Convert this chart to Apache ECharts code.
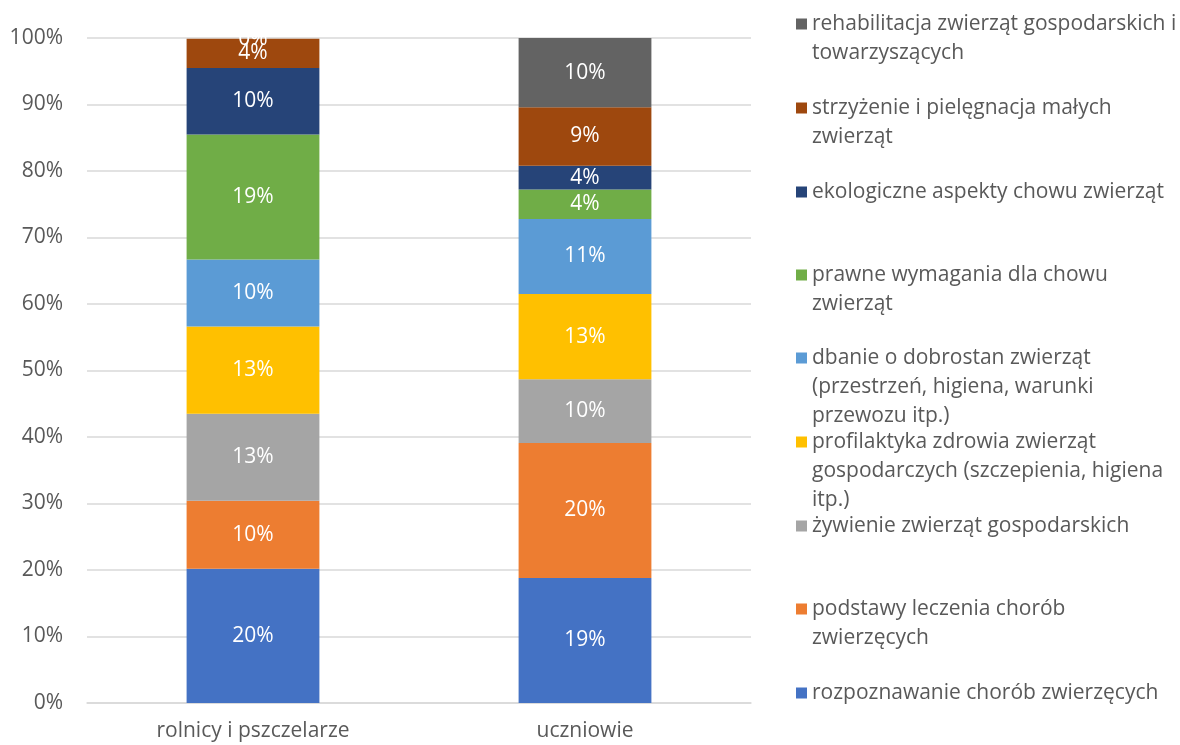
<!DOCTYPE html>
<html>
<head>
<meta charset="utf-8">
<script src="https://cdn.jsdelivr.net/npm/echarts@6/dist/echarts.min.js"></script>
<style>
  html, body { margin: 0; padding: 0; background: #fff; }
  #chart { width: 1180px; height: 745px; }
</style>
</head>
<body>
<div id="chart"></div>
<script>
  const categories = ['rolnicy i pszczelarze', 'uczniowie'];

  // kolejność od dołu słupka
  const seriesNames = [
    'rozpoznawanie chorób zwierzęcych',
    'podstawy leczenia chorób zwierzęcych',
    'żywienie zwierząt gospodarskich',
    'profilaktyka zdrowia zwierząt gospodarczych (szczepienia, higiena itp.)',
    'dbanie o dobrostan zwierząt (przestrzeń, higiena, warunki przewozu itp.)',
    'prawne wymagania dla chowu zwierząt',
    'ekologiczne aspekty chowu zwierząt',
    'strzyżenie i pielęgnacja małych zwierząt',
    'rehabilitacja zwierząt gospodarskich i towarzyszących',
  ];

  const legendLines = [
    ['rozpoznawanie chorób zwierzęcych'],
    ['podstawy leczenia chorób', 'zwierzęcych'],
    ['żywienie zwierząt gospodarskich'],
    ['profilaktyka zdrowia zwierząt', 'gospodarczych (szczepienia, higiena', 'itp.)'],
    ['dbanie o dobrostan zwierząt', '(przestrzeń, higiena, warunki', 'przewozu itp.)'],
    ['prawne wymagania dla chowu', 'zwierząt'],
    ['ekologiczne aspekty chowu zwierząt'],
    ['strzyżenie i pielęgnacja małych', 'zwierząt'],
    ['rehabilitacja zwierząt gospodarskich i', 'towarzyszących'],
  ];

  const rozpoznawanie = [20.2, 18.8];
  const podstawy = [10.2, 20.3];
  const zywienie = [13.1, 9.6];
  const profilaktyka = [13.1, 12.8];
  const dobrostan = [10.1, 11.3];
  const prawne = [18.8, 4.4];
  const ekologiczne = [10.0, 3.6];
  const strzyzenie = [4.4, 8.8];
  const rehabilitacja = [0, 10.4];

  const seriesValues = [
    rozpoznawanie, podstawy, zywienie, profilaktyka, dobrostan,
    prawne, ekologiczne, strzyzenie, rehabilitacja,
  ];

  const colors = ['#4472c4', '#ed7d31', '#a5a5a5', '#ffc000', '#5b9bd5', '#70ad47', '#264478', '#9e480e', '#636363'];

  // środek pierwszej linii tekstu legendy (px od góry)
  const legendFirstLine = [693, 609, 526, 442, 358, 275, 192, 108, 24];

  const textColor = '#595959';
  const fontFamily = '"Open Sans", "Noto Sans", sans-serif';
  const lineH = 29;

  const chart = echarts.init(document.getElementById('chart'));

  // puste linie nad tekstem, żeby znacznik wypadł przy pierwszej linii
  const legends = seriesNames.map((name, i) => {
    const n = legendLines[i].length;
    const pad = new Array(n - 1).fill(' ');
    return {
      data: [name],
      orient: 'vertical',
      left: 796,
      top: legendFirstLine[i] - lineH / 2 - (n - 1) * lineH,
      padding: 0,
      icon: 'rect',
      itemWidth: 11,
      itemHeight: 11,
      formatter: () => pad.concat(legendLines[i]).join('\n'),
      textStyle: {
        color: textColor,
        fontFamily,
        fontSize: 21,
        lineHeight: lineH,
      },
    };
  });

  const series = seriesNames.map((name, i) => ({
    name,
    type: 'bar',
    stack: 'total',
    barCategoryGap: '60%',
    data: seriesValues[i],
    itemStyle: { color: colors[i] },
    label: {
      show: true,
      position: 'inside',
      color: '#fff',
      fontFamily,
      fontSize: 21,
      formatter: (p) => Math.round(p.value) + '%',
    },
  }));

  chart.setOption({
    animation: false,
    color: colors,
    legend: legends,
    grid: {
      left: 87,
      right: 1180 - 751,
      top: 38,
      bottom: 745 - 703,
    },
    xAxis: {
      type: 'category',
      data: categories,
      axisLine: { lineStyle: { color: '#d9d9d9', width: 1.5 } },
      axisTick: { show: false },
      axisLabel: { color: textColor, fontFamily, fontSize: 21, margin: 18 },
    },
    yAxis: {
      type: 'value',
      min: 0,
      max: 100,
      interval: 10,
      axisLine: { show: false },
      axisTick: { show: false },
      splitLine: { lineStyle: { color: '#d9d9d9', width: 1.5 } },
      axisLabel: { color: textColor, fontFamily, fontSize: 21, margin: 24, formatter: '{value}%' },
    },
    series,
  });

  window.addEventListener('resize', () => chart.resize());
</script>
</body>
</html>
